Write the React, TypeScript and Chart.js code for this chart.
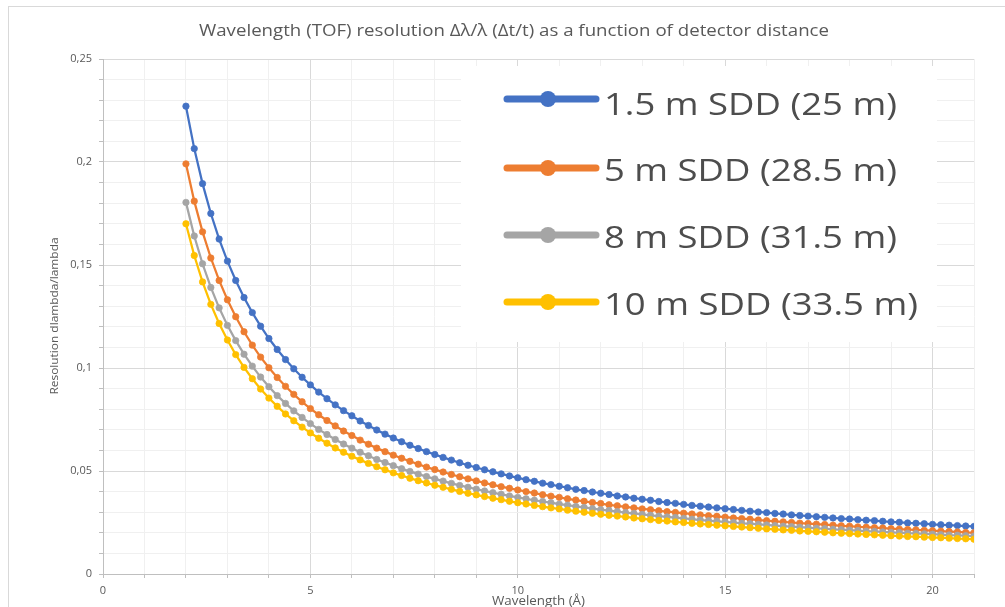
import { useEffect, useRef } from 'react';
import { Chart, registerables } from 'chart.js';

Chart.register(...registerables);

const wavelengths = [
  2.0, 2.2, 2.4, 2.6, 2.8, 3.0, 3.2, 3.4, 3.6, 3.8, 4.0, 4.2, 4.4, 4.6, 4.8, 5.0,
  5.2, 5.4, 5.6, 5.8, 6.0, 6.2, 6.4, 6.6, 6.8, 7.0, 7.2, 7.4, 7.6, 7.8, 8.0, 8.2,
  8.4, 8.6, 8.8, 9.0, 9.2, 9.4, 9.6, 9.8, 10.0, 10.2, 10.4, 10.6, 10.8, 11.0, 11.2, 11.4,
  11.6, 11.8, 12.0, 12.2, 12.4, 12.6, 12.8, 13.0, 13.2, 13.4, 13.6, 13.8, 14.0, 14.2, 14.4, 14.6,
  14.8, 15.0, 15.2, 15.4, 15.6, 15.8, 16.0, 16.2, 16.4, 16.6, 16.8, 17.0, 17.2, 17.4, 17.6, 17.8,
  18.0, 18.2, 18.4, 18.6, 18.8, 19.0, 19.2, 19.4, 19.6, 19.8, 20.0, 20.2, 20.4, 20.6, 20.8, 21.0,
];

const sdd1_5 = [
  0.2271, 0.2065, 0.1895, 0.1750, 0.1626, 0.1519, 0.1425, 0.1342, 0.1269, 0.1203, 0.1143, 0.1090, 0.1041, 0.0996, 0.0955, 0.0918,
  0.0883, 0.0851, 0.0821, 0.0793, 0.0768, 0.0743, 0.0721, 0.0699, 0.0679, 0.0660, 0.0642, 0.0625, 0.0609, 0.0594, 0.0580, 0.0566,
  0.0553, 0.0540, 0.0528, 0.0517, 0.0506, 0.0496, 0.0486, 0.0476, 0.0467, 0.0458, 0.0450, 0.0441, 0.0434, 0.0426, 0.0419, 0.0411,
  0.0405, 0.0398, 0.0392, 0.0386, 0.0379, 0.0374, 0.0368, 0.0363, 0.0358, 0.0352, 0.0347, 0.0343, 0.0338, 0.0333, 0.0329, 0.0325,
  0.0321, 0.0317, 0.0313, 0.0309, 0.0305, 0.0301, 0.0298, 0.0294, 0.0291, 0.0287, 0.0284, 0.0281, 0.0278, 0.0275, 0.0272, 0.0269,
  0.0267, 0.0264, 0.0261, 0.0259, 0.0256, 0.0253, 0.0251, 0.0248, 0.0246, 0.0244, 0.0241, 0.0239, 0.0237, 0.0235, 0.0233, 0.0231,
];

const sdd5 = [
  0.1991, 0.1810, 0.1661, 0.1534, 0.1425, 0.1331, 0.1249, 0.1176, 0.1111, 0.1053, 0.1001, 0.0954, 0.0911, 0.0872, 0.0836, 0.0803,
  0.0773, 0.0745, 0.0719, 0.0694, 0.0672, 0.0650, 0.0630, 0.0611, 0.0594, 0.0577, 0.0562, 0.0547, 0.0533, 0.0519, 0.0507, 0.0495,
  0.0483, 0.0472, 0.0462, 0.0452, 0.0442, 0.0433, 0.0424, 0.0416, 0.0408, 0.0400, 0.0393, 0.0385, 0.0378, 0.0372, 0.0365, 0.0359,
  0.0353, 0.0347, 0.0342, 0.0336, 0.0331, 0.0326, 0.0321, 0.0316, 0.0312, 0.0307, 0.0303, 0.0299, 0.0295, 0.0291, 0.0287, 0.0283,
  0.0280, 0.0276, 0.0272, 0.0269, 0.0266, 0.0262, 0.0259, 0.0256, 0.0253, 0.0250, 0.0247, 0.0245, 0.0242, 0.0240, 0.0237, 0.0234,
  0.0232, 0.0229, 0.0227, 0.0225, 0.0223, 0.0220, 0.0218, 0.0216, 0.0214, 0.0212, 0.0210, 0.0208, 0.0206, 0.0204, 0.0202, 0.0200,
];

const sdd8 = [
  0.1804, 0.1641, 0.1506, 0.1391, 0.1292, 0.1207, 0.1133, 0.1067, 0.1009, 0.0956, 0.0909, 0.0866, 0.0828, 0.0792, 0.0760, 0.0730,
  0.0702, 0.0677, 0.0653, 0.0631, 0.0611, 0.0591, 0.0574, 0.0556, 0.0541, 0.0526, 0.0511, 0.0498, 0.0485, 0.0473, 0.0462, 0.0451,
  0.0440, 0.0430, 0.0421, 0.0412, 0.0403, 0.0395, 0.0387, 0.0379, 0.0372, 0.0365, 0.0358, 0.0352, 0.0346, 0.0339, 0.0334, 0.0328,
  0.0323, 0.0317, 0.0312, 0.0308, 0.0303, 0.0298, 0.0294, 0.0289, 0.0285, 0.0281, 0.0277, 0.0274, 0.0270, 0.0266, 0.0262, 0.0259,
  0.0256, 0.0253, 0.0250, 0.0246, 0.0244, 0.0241, 0.0238, 0.0235, 0.0232, 0.0230, 0.0227, 0.0225, 0.0222, 0.0220, 0.0217, 0.0215,
  0.0213, 0.0211, 0.0208, 0.0207, 0.0204, 0.0202, 0.0201, 0.0198, 0.0197, 0.0195, 0.0193, 0.0191, 0.0189, 0.0188, 0.0186, 0.0184,
];

const sdd10 = [
  0.1700, 0.1546, 0.1418, 0.1309, 0.1216, 0.1136, 0.1065, 0.1003, 0.0948, 0.0898, 0.0854, 0.0814, 0.0777, 0.0744, 0.0713, 0.0685,
  0.0659, 0.0635, 0.0612, 0.0591, 0.0572, 0.0554, 0.0537, 0.0521, 0.0506, 0.0491, 0.0478, 0.0465, 0.0453, 0.0442, 0.0431, 0.0421,
  0.0411, 0.0401, 0.0392, 0.0384, 0.0376, 0.0368, 0.0361, 0.0353, 0.0346, 0.0340, 0.0333, 0.0327, 0.0321, 0.0316, 0.0310, 0.0305,
  0.0300, 0.0295, 0.0290, 0.0285, 0.0281, 0.0277, 0.0272, 0.0268, 0.0264, 0.0260, 0.0257, 0.0253, 0.0250, 0.0246, 0.0243, 0.0240,
  0.0237, 0.0234, 0.0231, 0.0228, 0.0225, 0.0222, 0.0219, 0.0217, 0.0214, 0.0212, 0.0209, 0.0207, 0.0205, 0.0203, 0.0200, 0.0198,
  0.0196, 0.0194, 0.0192, 0.0190, 0.0188, 0.0186, 0.0184, 0.0182, 0.0181, 0.0179, 0.0177, 0.0176, 0.0174, 0.0172, 0.0171, 0.0169,
];

const seriesLabels = ['1.5 m SDD (25 m)', '5 m SDD (28.5 m)', '8 m SDD (31.5 m)', '10 m SDD (33.5 m)'];
const seriesValues = [sdd1_5, sdd5, sdd8, sdd10];
const seriesColors = ['#4472C4', '#ED7D31', '#A5A5A5', '#FFC000'];

const xTickLabels = ['0', '5', '10', '15', '20'];
const yTickLabels = ['0', '0,05', '0,1', '0,15', '0,2', '0,25'];

const chartTitle = 'Wavelength (TOF) resolution Δλ/λ (Δt/t) as a function of detector distance';
const xAxisTitle = 'Wavelength (Å)';
const yAxisTitle = 'Resolution dlambda/lambda';

const FONT = '"Open Sans", "Liberation Sans", sans-serif';
const TEXT = '#595959';

function fitText(ctx: CanvasRenderingContext2D, text: string, x: number, y: number, target: number, align: 'left' | 'center') {
  const w = ctx.measureText(text).width;
  const s = target / w;
  ctx.save();
  ctx.translate(x, y);
  ctx.scale(s, 1);
  ctx.textAlign = align;
  ctx.fillText(text, 0, 0);
  ctx.restore();
}

const decorPlugin = {
  id: 'decor',
  beforeDraw(chart: any) {
    const ctx = chart.ctx as CanvasRenderingContext2D;
    ctx.save();
    ctx.fillStyle = '#ffffff';
    ctx.fillRect(0, 0, chart.width, chart.height);
    ctx.strokeStyle = '#d9d9d9';
    ctx.lineWidth = 1;
    ctx.strokeRect(8.5, 6.5, 1200, 800);
    ctx.restore();
  },
  afterDraw(chart: any) {
    const ctx = chart.ctx as CanvasRenderingContext2D;
    const area = chart.chartArea;
    ctx.save();
    // Title
    ctx.fillStyle = TEXT;
    ctx.font = `17px ${FONT}`;
    ctx.textBaseline = 'middle';
    fitText(ctx, chartTitle, 514, 31, 630, 'center');

    // X axis title
    ctx.font = `13px ${FONT}`;
    ctx.textBaseline = 'middle';
    fitText(ctx, xAxisTitle, (area.left + area.right) / 2, 601, 93, 'center');

    // Y axis title
    ctx.save();
    ctx.translate(55, 316);
    ctx.rotate(-Math.PI / 2);
    ctx.font = `11px ${FONT}`;
    ctx.textBaseline = 'middle';
    fitText(ctx, yAxisTitle, 0, 0, 157, 'center');
    ctx.restore();

    // Legend
    ctx.fillStyle = '#ffffff';
    ctx.fillRect(461, 66, 476, 276);
    const lineYs = [99, 168, 235, 302];
    const baseYs = [115, 181, 248, 315];
    const widths = [293, 293, 293, 314];
    for (let i = 0; i < seriesLabels.length; i++) {
      const y = lineYs[i];
      ctx.strokeStyle = seriesColors[i];
      ctx.lineWidth = 7;
      ctx.lineCap = 'round';
      ctx.beginPath();
      ctx.moveTo(507, y);
      ctx.lineTo(596, y);
      ctx.stroke();
      ctx.fillStyle = seriesColors[i];
      ctx.beginPath();
      ctx.arc(548, y, 8, 0, Math.PI * 2);
      ctx.fill();
      ctx.fillStyle = '#4d4d4d';
      ctx.font = `31px ${FONT}`;
      ctx.textBaseline = 'alphabetic';
      fitText(ctx, seriesLabels[i], 604, baseYs[i], widths[i], 'left');
    }
    ctx.restore();
  },
};

function isMultiple(v: number, step: number) {
  const r = v / step;
  return Math.abs(r - Math.round(r)) < 1e-6;
}

export default function App() {
  const canvasRef = useRef<HTMLCanvasElement | null>(null);

  useEffect(() => {
    if (!canvasRef.current) return;
    const datasets = seriesValues.map((vals, i) => ({
      label: seriesLabels[i],
      data: vals.map((v, j) => ({ x: wavelengths[j], y: v })),
      borderColor: seriesColors[i],
      backgroundColor: seriesColors[i],
      borderWidth: 2.25,
      pointRadius: 3.2,
      pointBorderWidth: 0.75,
      pointBorderColor: seriesColors[i],
      pointBackgroundColor: seriesColors[i],
      tension: 0,
      order: seriesLabels.length - i,
    }));
    const chart = new Chart(canvasRef.current, {
      type: 'line',
      data: { datasets },
      options: {
        animation: false,
        responsive: false,
        devicePixelRatio: 1,
        layout: { padding: { top: 59, right: 31, left: 0, bottom: 0 } },
        plugins: {
          legend: { display: false },
          title: { display: false },
          tooltip: { enabled: false },
        },
        scales: {
          x: {
            type: 'linear',
            min: 0,
            max: 21,
            afterFit: (scale: any) => {
              scale.height = 33;
              scale.paddingLeft = 0;
              scale.paddingRight = 0;
            },
            ticks: {
              stepSize: 1,
              autoSkip: false,
              maxRotation: 0,
              padding: 6,
              color: TEXT,
              font: { family: FONT, size: 11 },
              callback: (value: any) => {
                const v = Number(value);
                return isMultiple(v, 5) ? xTickLabels[Math.round(v / 5)] : '';
              },
            },
            grid: {
              color: (ctx: any) => (ctx.tick && isMultiple(ctx.tick.value, 5) ? '#d9d9d9' : '#f0f0f0'),
              lineWidth: 1,
              drawTicks: true,
              tickLength: 4,
              tickColor: '#bfbfbf',
            },
            border: { color: '#bfbfbf', width: 1 },
          },
          y: {
            type: 'linear',
            min: 0,
            max: 0.25,
            afterFit: (scale: any) => {
              scale.width = 103;
            },
            ticks: {
              stepSize: 0.01,
              autoSkip: false,
              padding: 7,
              color: TEXT,
              font: { family: FONT, size: 11 },
              callback: (value: any) => {
                const v = Number(value);
                return isMultiple(v, 0.05) ? yTickLabels[Math.round(v / 0.05)] : '';
              },
            },
            grid: {
              color: (ctx: any) => (ctx.tick && isMultiple(ctx.tick.value, 0.05) ? '#d9d9d9' : '#f0f0f0'),
              lineWidth: 1,
              drawTicks: true,
              tickLength: 4,
              tickColor: '#bfbfbf',
            },
            border: { color: '#bfbfbf', width: 1 },
          },
        },
      },
      plugins: [decorPlugin],
    });
    return () => chart.destroy();
  }, []);

  return (
    <div style={{ position: 'fixed', left: 0, top: 0, width: 1005, height: 607, background: '#fff' }}>
      <canvas ref={canvasRef} width={1005} height={607} style={{ display: 'block', width: 1005, height: 607 }} />
    </div>
  );
}
